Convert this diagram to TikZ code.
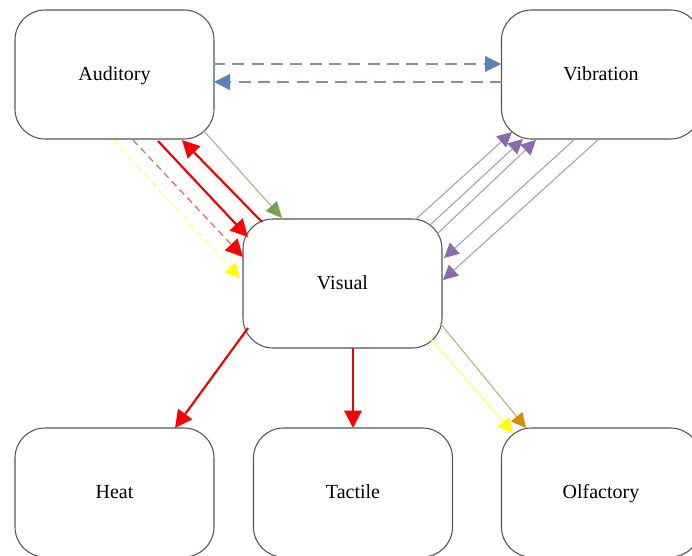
\documentclass[tikz,border=0pt]{standalone}
\usepackage{fontspec}
\setmainfont{Liberation Serif}
\usetikzlibrary{arrows.meta}
\definecolor{boxgray}{HTML}{555555}
\definecolor{redhead}{HTML}{FF0000}
\definecolor{redline}{HTML}{F00000}
\definecolor{pinkline}{HTML}{E86060}
\definecolor{ylwline}{HTML}{FFFF70}
\definecolor{ylwhead}{HTML}{FFFF00}
\definecolor{grnline}{HTML}{9BB98A}
\definecolor{grnhead}{HTML}{77A050}
\definecolor{bluline}{HTML}{8090B0}
\definecolor{bluhead}{HTML}{5B82C0}
\definecolor{purline}{HTML}{A89CBC}
\definecolor{purhead}{HTML}{8A6AAE}
\definecolor{orgline}{HTML}{C8A878}
\definecolor{orghead}{HTML}{D08E00}
\begin{document}
\begin{tikzpicture}[x=0.75pt,y=-0.75pt,
  box/.style={draw=boxgray, line width=0.8pt, rounded corners=22.5pt,
    minimum width=149.25pt, minimum height=96.75pt, inner sep=0pt,
    text height=2.5ex, text depth=0.5ex,
    font=\fontsize{15}{18}\selectfont},
  redthick/.style={draw=redline, line width=1.6pt,
    -{Triangle[length=13pt,width=13pt,color=redhead]}},
  redthin/.style={draw=pinkline, line width=0.9pt, dash pattern=on 5pt off 3.5pt,
    -{Triangle[length=13pt,width=13pt,color=redhead]}},
  ylwdash/.style={draw=ylwline, line width=0.9pt, dash pattern=on 5pt off 3.5pt,
    -{Triangle[length=11pt,width=11pt,color=ylwhead]}},
  ylwsolid/.style={draw=ylwline, line width=0.9pt,
    -{Triangle[length=11pt,width=11pt,color=ylwhead]}},
  grnarrow/.style={draw=grnline, line width=0.8pt,
    -{Triangle[length=12pt,width=11pt,color=grnhead]}},
  bluarrow/.style={draw=bluline, line width=0.8pt, dash pattern=on 9pt off 5.5pt,
    -{Triangle[length=12pt,width=12pt,color=bluhead]}},
  purarrow/.style={draw=purline, line width=0.8pt,
    -{Triangle[length=11pt,width=11pt,color=purhead]}},
  orgarrow/.style={draw=orgline, line width=0.8pt,
    -{Triangle[length=11pt,width=11pt,color=orghead]}}]
\useasboundingbox (0,0) rectangle (692,556);
\clip (0,0) rectangle (692,556);

% boxes
\node[box] (aud) at (114.5,74.5) {Auditory};
\node[box] (vib) at (601,74.5) {Vibration};
\node[box] (vis) at (342.5,283.5) {Visual};
\node[box] (heat) at (114.5,492.5) {Heat};
\node[box] (tac) at (353,492.5) {Tactile};
\node[box] (olf) at (601,492.5) {Olfactory};

% endpoints
\coordinate (ab1) at (213,64);   \coordinate (vb1) at (501,64);
\coordinate (vb2) at (502,82);   \coordinate (ab2) at (214,82);

\coordinate (ay1) at (113,140);  \coordinate (vy1) at (240,278);
\coordinate (ar1) at (133,140);  \coordinate (vr1) at (243,257);
\coordinate (ar2) at (158,141);  \coordinate (vr2) at (248,237);
\coordinate (vr3) at (262,222);  \coordinate (ar3) at (182,140);
\coordinate (ag1) at (203,130);  \coordinate (vg1) at (282,218);

\coordinate (vp1) at (415,220);  \coordinate (bp1) at (512,132);
\coordinate (vp2) at (429,226);  \coordinate (bp2) at (523,139);
\coordinate (vp3) at (437,234);  \coordinate (bp3) at (536,140);
\coordinate (bp4) at (575,139);  \coordinate (vp4) at (444,258);
\coordinate (bp5) at (599,139);  \coordinate (vp5) at (443,280);

\coordinate (vh) at (248,328);   \coordinate (hv) at (175,428);
\coordinate (vt) at (353,348);   \coordinate (tv) at (353,428);
\coordinate (vo1) at (430,338);  \coordinate (ov1) at (513,433);
\coordinate (vo2) at (440,323);  \coordinate (ov2) at (526,428);

% auditory <-> vibration
\draw[bluarrow] (ab1) -- (vb1);
\draw[bluarrow] (vb2) -- (ab2);

% auditory <-> visual
\draw[ylwdash] (ay1) -- (vy1);
\draw[redthin] (ar1) -- (vr1);
\draw[redthick] (ar2) -- (vr2);
\draw[redthick] (vr3) -- (ar3);
\draw[grnarrow] (ag1) -- (vg1);

% visual <-> vibration
\draw[purarrow] (vp1) -- (bp1);
\draw[purarrow] (vp2) -- (bp2);
\draw[purarrow] (vp3) -- (bp3);
\draw[purarrow] (bp4) -- (vp4);
\draw[purarrow] (bp5) -- (vp5);

% visual -> bottom
\draw[redthick] (vh) -- (hv);
\draw[redthick] (vt) -- (tv);
\draw[ylwsolid] (vo1) -- (ov1);
\draw[orgarrow] (vo2) -- (ov2);
\end{tikzpicture}
\end{document}
